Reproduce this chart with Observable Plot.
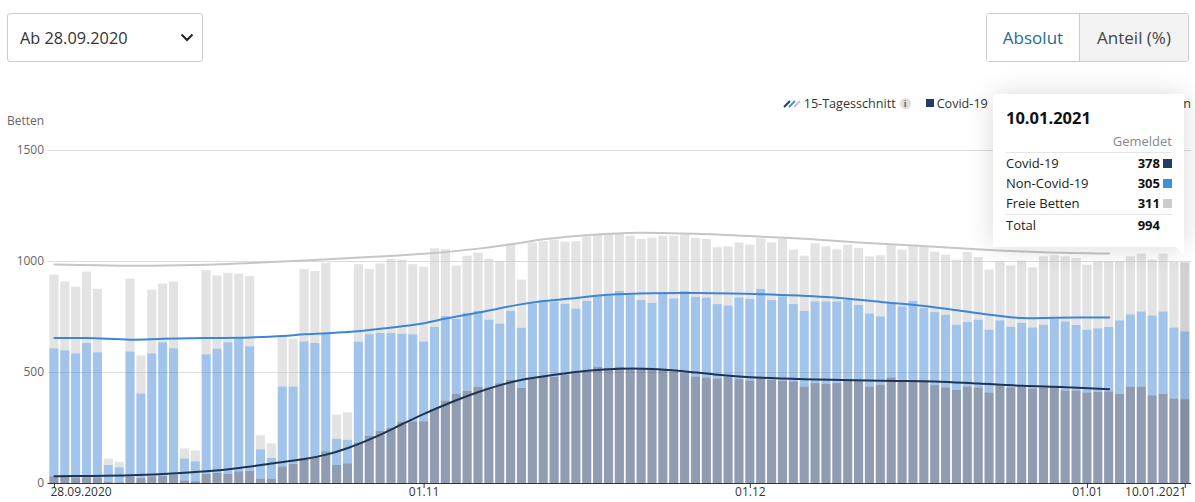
<!DOCTYPE html>
<html>
<head>
<meta charset="utf-8">
<script src="https://cdn.jsdelivr.net/npm/d3@7"></script>
<script src="https://cdn.jsdelivr.net/npm/@observablehq/plot@0.6"></script>
<style>
  html, body { margin: 0; padding: 0; background: #fff; }
  body { font-family: "Open Sans", sans-serif; color: #333; }
  #wrap { position: relative; width: 1195px; height: 502px; overflow: hidden; }
  #header { position: relative; height: 130px; }
  .dropdown { position: absolute; left: 7px; top: 13px; width: 196px; height: 49px; box-sizing: border-box;
    border: 1px solid #ccc; border-radius: 3px; }
  .dropdown span { position: absolute; left: 12px; top: 13px; font-size: 16.3px; line-height: 22px; color: #333; }
  .dropdown svg { position: absolute; left: 172px; top: 19px; }
  .toggle { position: absolute; left: 986px; top: 13px; width: 203px; height: 49px; box-sizing: border-box;
    border: 1px solid #ccc; border-radius: 3px; display: flex; overflow: hidden; font-size: 17px; }
  .toggle div { display: flex; align-items: center; justify-content: center; }
  .toggle .on { width: 92px; color: #1d6a98; background: #fff; border-right: 1px solid #ccc; }
  .toggle .off { flex: 1; color: #444; background: #f3f3f3; }
  .legend { position: absolute; right: 4px; top: 94px; height: 18px; display: flex; align-items: center;
    font-size: 12.6px; color: #333; white-space: nowrap; }
  .legend .sq { display: inline-block; width: 8px; height: 8px; margin: 0 3px 0 15px; }
  .legend .info { display: inline-block; width: 11px; height: 11px; border-radius: 50%; background: #dedede;
    color: #666; font-size: 9px; line-height: 11px; text-align: center; margin-left: 4px; font-weight: bold; }
  .ylabel { position: absolute; left: 7px; top: 113px; font-size: 12px; line-height: 16px; color: #666; }
  .tip { position: absolute; left: 993px; top: 94px; width: 191px; height: 153px; background: #fff;
    box-shadow: 0 1px 26px rgba(0,0,0,0.15); z-index: 5; font-size: 13px; color: #222; }
  .tip .ptr { position: absolute; right: 0; top: 153px; width: 0; height: 0;
    border-top: 9px solid #fff; border-left: 8px solid transparent; }
  .tip .title { position: absolute; left: 13px; top: 13px; font-size: 16.5px; line-height: 22px; font-weight: bold; color: #111; }
  .tip .head { position: absolute; right: 12px; top: 39px; line-height: 16px; color: #888; }
  .tip .sep { position: absolute; left: 13px; right: 12px; height: 1px; background: #e4e4e4; }
  .tip .row { position: absolute; left: 13px; right: 12px; height: 20px; line-height: 20px; }
  .tip .row .v { position: absolute; right: 12px; top: 0; font-weight: bold; color: #111; }
  .tip .row .s { position: absolute; right: 0; top: 6px; width: 9px; height: 9px; }
</style>
</head>
<body>
<div id="wrap">
  <div id="header">
    <div class="dropdown"><span>Ab 28.09.2020</span>
      <svg width="14" height="9" viewBox="0 0 14 9"><polyline points="1.5,1.5 7,7 12.5,1.5" fill="none" stroke="#222" stroke-width="2"/></svg>
    </div>
    <div class="toggle"><div class="on">Absolut</div><div class="off">Anteil (%)</div></div>
    <div class="legend" id="legend"></div>
    <div class="ylabel">Betten</div>
  </div>
  <div id="chart"></div>
  <div class="tip" id="tip"></div>
</div>
<script>
// ---- data ----
const firstDay = "2020-09-28";
const lastDay = "2021-01-10";
const seriesNames = ["Covid-19", "Non-Covid-19", "Freie Betten"];
const seriesColors = ["#1f3965", "#4589d5", "#c7c7c7"];
const legendColors = ["#1f3d66", "#3f8fdc", "#cccccc"];

const covid = [30,30,26,26,26,5,3,30,22,30,33,36,12,8,41,45,41,53,56,20,20,75,86,110,120,143,81,89,183,212,
  236,249,275,278,278,333,372,402,416,434,431,450,464,428,470,480,479,488,498,503,523,518,523,514,514,514,511,503,498,480,
  476,471,480,468,462,473,465,461,458,435,450,446,450,462,462,435,443,476,455,465,462,441,431,420,435,431,408,440,431,435,
  426,431,434,417,417,408,410,413,402,435,435,395,402,381,378];
const nonCovid = [577,568,558,605,563,76,68,563,382,554,601,571,99,90,539,560,593,596,560,132,93,360,349,528,511,530,119,106,454,458,
  440,427,398,392,360,371,380,338,350,341,305,268,312,272,339,343,339,320,287,317,318,326,342,336,310,298,342,329,367,359,
  360,335,320,368,367,401,359,380,348,341,368,372,368,362,340,329,308,335,341,356,326,329,327,293,290,305,283,293,273,286,
  275,282,306,311,295,283,287,290,331,325,338,360,371,320,305];
const free = [331,310,300,321,286,29,24,327,171,287,264,300,45,49,379,330,313,294,316,63,66,226,215,326,324,319,108,123,349,294,
  313,334,333,316,336,353,301,239,258,263,274,282,300,216,275,266,278,279,304,290,278,276,258,264,275,293,261,282,254,265,
  263,256,266,248,245,228,260,258,245,248,262,248,235,250,257,257,275,260,255,245,275,272,271,293,316,282,270,265,276,281,
  270,308,286,293,302,292,301,295,265,261,260,251,260,294,311];

// 15-day averages (read at selected days)
const covidAvgDays = ["2020-09-28","2020-10-01","2020-10-05","2020-10-08","2020-10-12","2020-10-15","2020-10-18","2020-10-21","2020-10-23","2020-10-25",
  "2020-10-28","2020-10-30","2020-11-01","2020-11-03","2020-11-06","2020-11-08","2020-11-10","2020-11-13","2020-11-16","2020-11-19",
  "2020-11-22","2020-11-25","2020-11-28","2020-12-01","2020-12-06","2020-12-13","2020-12-18","2020-12-22","2020-12-26","2020-12-30","2021-01-03"];
const covidAvg = [33,34,37,43,55,70,90,110,130,160,220,268,314,356,412,443,467,490,508,517,516,505,490,479,470,463,460,450,440,434,425];

const occupiedAvgDays = ["2020-09-28","2020-10-01","2020-10-05","2020-10-08","2020-10-12","2020-10-16","2020-10-19","2020-10-21","2020-10-25","2020-10-28",
  "2020-11-01","2020-11-03","2020-11-06","2020-11-10","2020-11-12","2020-11-15","2020-11-18","2020-11-22","2020-11-26","2020-12-02",
  "2020-12-08","2020-12-13","2020-12-17","2020-12-20","2020-12-23","2020-12-26","2020-12-29","2021-01-03"];
const occupiedAvg = [655,655,648,652,655,658,664,672,682,697,722,743,770,808,822,836,850,857,858,853,840,818,800,780,760,745,747,748];

const totalAvgDays = ["2020-09-28","2020-10-02","2020-10-05","2020-10-11","2020-10-17","2020-10-21","2020-10-27","2020-11-01","2020-11-06","2020-11-09",
  "2020-11-12","2020-11-15","2020-11-18","2020-11-21","2020-11-26","2020-12-02","2020-12-06","2020-12-11","2020-12-16","2020-12-23",
  "2020-12-28","2021-01-03"];
const totalAvg = [986,983,981,984,995,1005,1020,1035,1058,1078,1100,1115,1125,1130,1125,1112,1102,1086,1072,1052,1042,1036];

const yTicks = [0, 500, 1000, 1500];
const xTickDays = ["2020-09-28", "2020-11-01", "2020-12-01", "2021-01-01", "2021-01-10"];
const xTickLabels = ["28.09.2020", "01.11", "01.12", "01.01", "10.01.2021"];
const hoverDay = "2021-01-10";

// ---- build tables ----
const fmt = d3.utcFormat("%Y-%m-%d");
const days = d3.utcDay.range(new Date(firstDay), d3.utcDay.offset(new Date(lastDay), 1)).map(fmt);
const rows = [];
days.forEach((d, i) => {
  rows.push({day: d, series: seriesNames[0], value: covid[i]});
  rows.push({day: d, series: seriesNames[1], value: nonCovid[i]});
  rows.push({day: d, series: seriesNames[2], value: free[i]});
});
const hoverIndex = days.indexOf(hoverDay);
const hoverRow = [{day: hoverDay, total: covid[hoverIndex] + nonCovid[hoverIndex] + free[hoverIndex]}];
const lineC = covidAvgDays.map((d, i) => ({day: d, v: covidAvg[i]}));
const lineO = occupiedAvgDays.map((d, i) => ({day: d, v: occupiedAvg[i]}));
const lineT = totalAvgDays.map((d, i) => ({day: d, v: totalAvg[i]}));
const ticks = xTickDays.map((d, i) => ({day: d, label: xTickLabels[i]}));

const frameH = 372 - 20 - 19;
const tickMark = Plot.axisX
  ? Plot.axisX(xTickDays, {tickSize: 5, tickFormat: () => "", label: null, stroke: "#333"})
  : Plot.ruleX(xTickDays, {stroke: "#333", insetTop: frameH, insetBottom: -5});

const chart = Plot.plot({
  width: 1195,
  height: 372,
  marginLeft: 47.6,
  marginRight: 3.9,
  marginTop: 20,
  marginBottom: 19,
  x: {type: "band", domain: days, padding: 0.16, axis: null, label: null},
  y: {domain: [0, 1500], axis: null, label: null},
  color: {domain: seriesNames, range: seriesColors},
  style: {fontFamily: "Open Sans, sans-serif", fontSize: "12px", color: "#555", background: "transparent", overflow: "visible"},
  marks: [
    Plot.gridY(yTicks.slice(1), {stroke: "#dcdcdc", strokeOpacity: 1}),
    Plot.barY(rows, {x: "day", y: "value", fill: "series", fillOpacity: 0.5}),
    Plot.barY(hoverRow, {x: "day", y: "total", fill: "#000", fillOpacity: 0.08}),
    Plot.line(lineT, {x: "day", y: "v", stroke: "#c6c6c6", strokeWidth: 2, curve: "catmull-rom"}),
    Plot.line(lineO, {x: "day", y: "v", stroke: "#3d86d6", strokeWidth: 2, curve: "catmull-rom"}),
    Plot.line(lineC, {x: "day", y: "v", stroke: "#1c3557", strokeWidth: 2, curve: "catmull-rom"}),
    Plot.ruleY([0], {stroke: "#333", strokeWidth: 1}),
    tickMark,
    Plot.text(ticks.slice(0, 1), {x: "day", text: "label", frameAnchor: "bottom", dy: 12.5, dx: -4, textAnchor: "start", fill: "#333", fontSize: 12}),
    Plot.text(ticks.slice(1, -1), {x: "day", text: "label", frameAnchor: "bottom", dy: 12.5, textAnchor: "middle", fill: "#333", fontSize: 12}),
    Plot.text(ticks.slice(-1), {x: "day", text: "label", frameAnchor: "bottom", dy: 12.5, dx: 1, textAnchor: "end", fill: "#333", fontSize: 12}),
    Plot.text(yTicks, {y: d => d, text: d => String(d), frameAnchor: "left", dx: -4, textAnchor: "end", fill: "#666", fontSize: 12})
  ]
});
document.getElementById("chart").appendChild(chart);

// ---- legend ----
const legend = document.getElementById("legend");
legend.innerHTML =
  '<svg width="18" height="10" viewBox="0 0 18 10" style="margin-right:3px">' +
  '<line x1="1" y1="9" x2="7" y2="3" stroke="#1f3d66" stroke-width="2"/>' +
  '<line x1="6" y1="9" x2="12" y2="3" stroke="#3f8fdc" stroke-width="2"/>' +
  '<line x1="11" y1="9" x2="17" y2="3" stroke="#c4c4c4" stroke-width="2"/></svg>' +
  '<span>15-Tagesschnitt</span><span class="info">i</span>' +
  seriesNames.map((n, i) => '<span class="sq" style="background:' + legendColors[i] + '"></span><span>' + n + '</span>').join("");

// ---- tooltip for hovered day ----
const tip = document.getElementById("tip");
const hv = [covid[hoverIndex], nonCovid[hoverIndex], free[hoverIndex]];
const hd = new Date(hoverDay);
let html = '<div class="title">' + d3.utcFormat("%d.%m.%Y")(hd) + '</div>' +
  '<div class="head">Gemeldet</div><div class="sep" style="top:58px"></div>';
seriesNames.forEach((n, i) => {
  html += '<div class="row" style="top:' + (59 + i * 20) + 'px">' + n + '<span class="v">' + hv[i] +
    '</span><span class="s" style="background:' + legendColors[i] + '"></span></div>';
});
html += '<div class="sep" style="top:120px"></div>' +
  '<div class="row" style="top:121px">Total<span class="v">' + d3.sum(hv) + '</span></div>' +
  '<div class="ptr"></div>';
tip.innerHTML = html;
</script>
</body>
</html>
